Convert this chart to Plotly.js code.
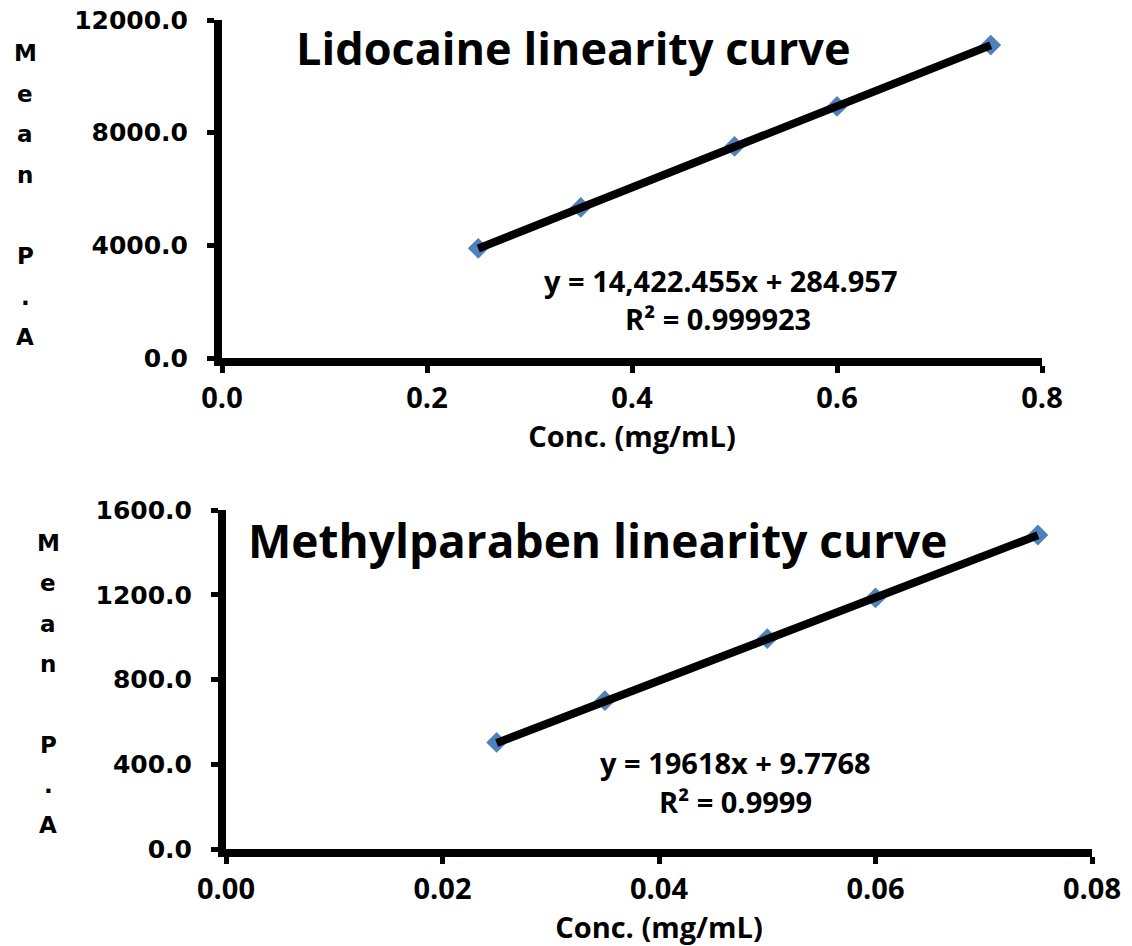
<!DOCTYPE html>
<html>
<head>
<meta charset="utf-8">
<script src="https://cdn.plot.ly/plotly-3.0.1.min.js"></script>
<style>html,body{margin:0;padding:0;background:#fff;}#chart{width:1132px;height:946px;}</style>
</head>
<body>
<div id="chart"></div>
<script>
// ---- Data ----
const lidoConc = [0.25, 0.35, 0.5, 0.6, 0.75];
const lidoArea = [3895, 5345, 7510, 8930, 11110];
const lidoFit = [14422.455, 284.957]; // slope, intercept
const lidoEq = ["y = 14,422.455x + 284.957", "R² = 0.999923"];

const mpConc = [0.025, 0.035, 0.05, 0.06, 0.075];
const mpArea = [503, 700, 993, 1185, 1482];
const mpFit = [19618, 9.7768];
const mpEq = ["y = 19618x + 9.7768", "R² = 0.9999"];

const titles = ["Lidocaine linearity curve", "Methylparaben linearity curve"];
const xTitle = "Conc. (mg/mL)";
const yLetters = ["M", "e", "a", "n", "", "P", ".", "A"];

// ---- Layout helpers ----
const W = 1132, H = 946;
const fx = v => v / W;
const fy = v => 1 - v / H;

const BLUE = '#4F81BD';
const calibri = '"Open Sans", "Noto Sans", sans-serif';
const verdana = '"DejaVu Sans", Verdana, sans-serif';

function fitLine(xs, fit) {
  const x = [xs[0], xs[xs.length - 1]];
  return { x: x, y: x.map(v => fit[0] * v + fit[1]) };
}
const lt = fitLine(lidoConc, lidoFit);
const mt = fitLine(mpConc, mpFit);

const traces = [
  { x: lidoConc, y: lidoArea, mode: 'markers', type: 'scatter', xaxis: 'x', yaxis: 'y',
    marker: { symbol: 'diamond', size: 16, color: BLUE }, showlegend: false },
  { x: lt.x, y: lt.y, mode: 'lines', type: 'scatter', xaxis: 'x', yaxis: 'y',
    line: { color: '#000', width: 8 }, showlegend: false },
  { x: mpConc, y: mpArea, mode: 'markers', type: 'scatter', xaxis: 'x2', yaxis: 'y2',
    marker: { symbol: 'diamond', size: 16, color: BLUE }, showlegend: false },
  { x: mt.x, y: mt.y, mode: 'lines', type: 'scatter', xaxis: 'x2', yaxis: 'y2',
    line: { color: '#000', width: 8 }, showlegend: false }
];

const axisCommon = {
  showline: true, linecolor: '#000', linewidth: 8, mirror: false,
  showgrid: false, zeroline: false, ticks: 'outside', ticklen: 7, tickwidth: 5, tickcolor: '#000',
  fixedrange: true
};

const annotations = [];
function addText(text, x, y, size, family) {
  annotations.push({ text: text, xref: 'paper', yref: 'paper', x: fx(x), y: fy(y),
    xanchor: 'center', yanchor: 'middle', showarrow: false,
    font: { family: family, size: size, color: '#000', weight: 700 } });
}
// Chart titles
addText(titles[0], 573, 47, 45, calibri);
addText(titles[1], 597, 540, 46, calibri);
// Equations
addText(lidoEq[0], 721, 280, 29, calibri);
addText(lidoEq[1], 718, 319, 29, calibri);
addText(mpEq[0], 735, 762, 29, calibri);
addText(mpEq[1], 735, 801, 29, calibri);
// Vertical stacked y titles
yLetters.forEach((ch, i) => {
  if (ch) {
    addText(ch, 25, 53 + i * 40.6, 23, verdana);
    addText(ch, 48, 543 + i * 40.3, 23, verdana);
  }
});

const tickFontX = { family: calibri, size: 29, color: '#000', weight: 700 };
const tickFontY = { family: verdana, size: 25, color: '#000', weight: 700 };
const titleFont = { family: calibri, size: 29, color: '#000', weight: 700 };

const layout = {
  width: W, height: H,
  margin: { l: 0, r: 0, t: 0, b: 0 },
  paper_bgcolor: '#fff', plot_bgcolor: '#fff',
  showlegend: false,
  xaxis: Object.assign({}, axisCommon, {
    domain: [fx(222), fx(1042)], anchor: 'y', range: [0, 0.8], dtick: 0.2, tick0: 0,
    tickformat: '.1f', tickfont: tickFontX,
    title: { text: xTitle, font: titleFont, standoff: 14 }
  }),
  yaxis: Object.assign({}, axisCommon, {
    domain: [fy(358), fy(20)], anchor: 'x', range: [0, 12000], dtick: 4000, tick0: 0,
    tickformat: '.1f', tickfont: tickFontY, ticklabelstandoff: 14
  }),
  xaxis2: Object.assign({}, axisCommon, {
    domain: [fx(226), fx(1092)], anchor: 'y2', range: [0, 0.08], dtick: 0.02, tick0: 0,
    tickformat: '.2f', tickfont: tickFontX,
    title: { text: xTitle, font: titleFont, standoff: 12 }
  }),
  yaxis2: Object.assign({}, axisCommon, {
    domain: [fy(849), fy(510)], anchor: 'x2', range: [0, 1600], dtick: 400, tick0: 0,
    tickformat: '.1f', tickfont: tickFontY, ticklabelstandoff: 14
  }),
  annotations: annotations
};

Plotly.newPlot('chart', traces, layout, { displayModeBar: false, staticPlot: true });
</script>
</body>
</html>
